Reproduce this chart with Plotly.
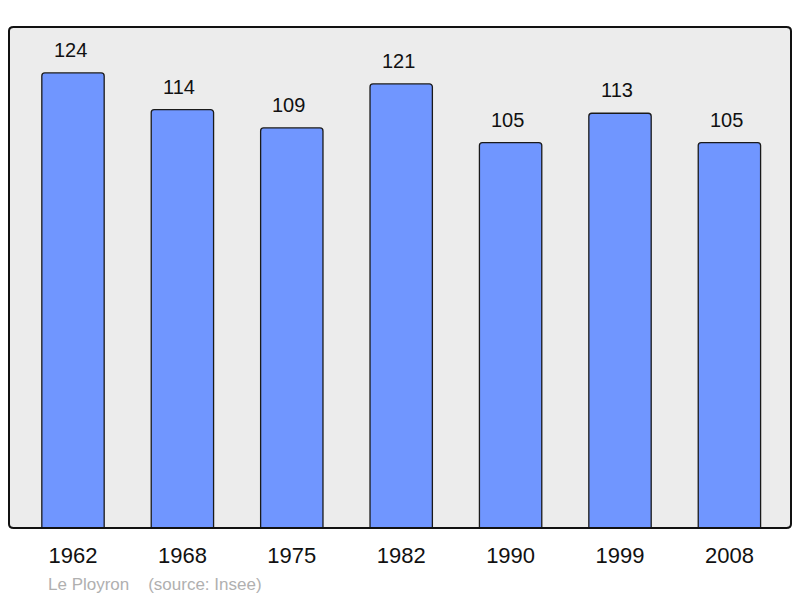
import plotly.graph_objects as go

years = ["1962", "1968", "1975", "1982", "1990", "1999", "2008"]
population = [124, 114, 109, 121, 105, 113, 105]
place = "Le Ployron"
source = "(source: Insee)"

fig = go.Figure()
fig.add_trace(go.Bar(
    x=list(range(len(years))), y=population,
    width=0.57,
    marker=dict(color="#7096ff", line=dict(color="#1a1a1a", width=1.3), cornerradius=3),
    hoverinfo="skip",
))
for i, v in enumerate(population):
    fig.add_annotation(x=i, y=v, text=str(v), showarrow=False, yanchor="bottom",
                       yshift=10, xshift=-3, font=dict(size=20, color="#111", family="Liberation Sans, Arial"))

fig.add_shape(type="path", xref="paper", yref="paper",
              path="M 0.006,0 L 0.994,0 Q 1,0 1,0.008 L 1,0.992 Q 1,1 0.994,1 L 0.006,1 Q 0,1 0,0.992 L 0,0.008 Q 0,0 0.006,0 Z",
              line=dict(color="#111", width=2), layer="above")

fig.add_annotation(xref="paper", yref="paper", x=0.047, y=-0.09, xanchor="left", yanchor="top",
                   text=place + "\u00a0\u00a0\u00a0\u00a0" + source, showarrow=False,
                   font=dict(size=17, color="#b0b0b0", family="Liberation Sans, Arial"))

fig.update_layout(
    width=800, height=598,
    margin=dict(l=9, r=9, t=27, b=70),
    paper_bgcolor="white", plot_bgcolor="#ececec",
    showlegend=False,
    font=dict(family="Liberation Sans, Arial"),
    xaxis=dict(range=[-0.585, 6.563], tickmode="array", tickvals=list(range(len(years))),
               ticktext=years, tickfont=dict(size=22, color="#111"), showgrid=False,
               zeroline=False, ticks="outside", ticklen=8, tickcolor="rgba(0,0,0,0)"),
    yaxis=dict(range=[0, 136.5], visible=False, showgrid=False, zeroline=False),
)

fig.write_html("out.html", config={"displayModeBar": False},
               post_script="document.body.style.margin='0';document.body.style.overflow='hidden';")
